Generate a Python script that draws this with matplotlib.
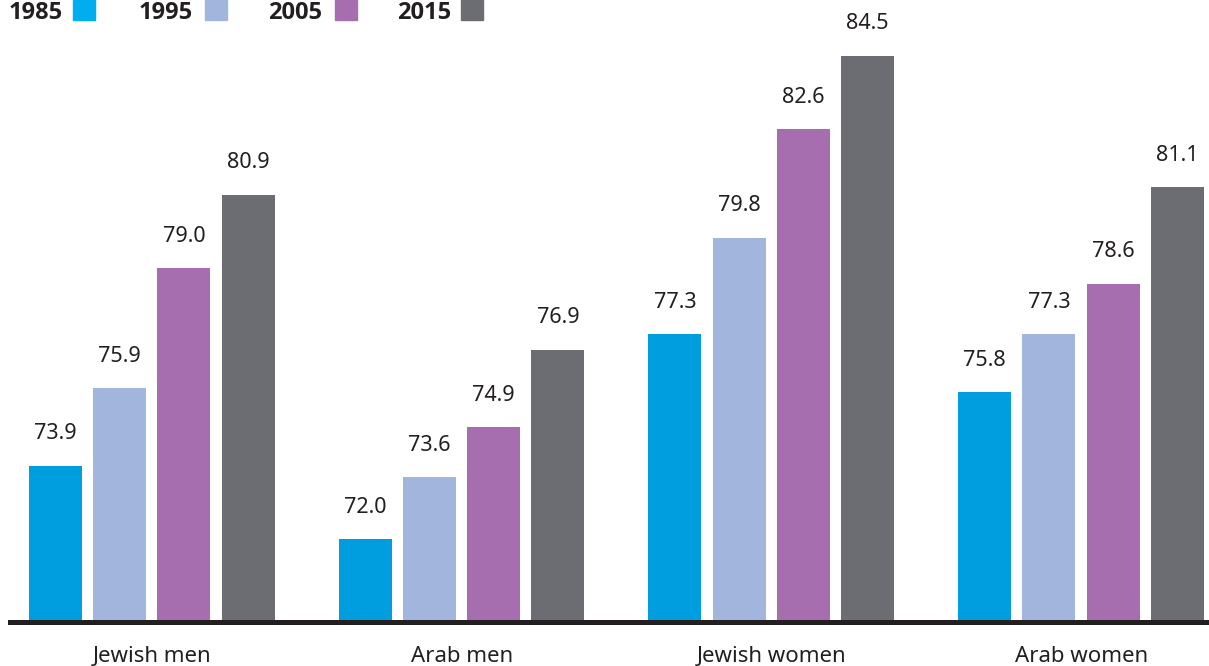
import numpy as np
import matplotlib
matplotlib.use("Agg")
import matplotlib.pyplot as plt
from matplotlib.patches import Rectangle

plt.rcParams['font.family'] = ['Noto Sans', 'DejaVu Sans']

categories = ["Jewish men", "Arab men", "Jewish women", "Arab women"]
years = ["1985", "1995", "2005", "2015"]
values_1985 = [73.9, 72.0, 77.3, 75.8]
values_1995 = [75.9, 73.6, 79.8, 77.3]
values_2005 = [79.0, 74.9, 82.6, 78.6]
values_2015 = [80.9, 76.9, 84.5, 81.1]
series = [values_1985, values_1995, values_2005, values_2015]

bar_colors = ["#009EDE", "#A2B6DD", "#A66EAE", "#6C6D72"]
key_colors = ["#00AEEF", "#A2B6DD", "#A66EAE", "#6C6D72"]
text_color = "#231F20"

W, H = 1209, 666
fig = plt.figure(figsize=(W / 100, H / 100), dpi=100)

# axes span from the baseline up to the top edge
ax_left, ax_bottom = 10 / W, (H - 622) / H
ax = fig.add_axes([ax_left, ax_bottom, 1 - ax_left, 1 - ax_bottom])

x = np.arange(len(categories))
step = 0.2074
width = 0.171
offsets = (np.arange(len(years)) - 1.5) * step

for i, (vals, col) in enumerate(zip(series, bar_colors)):
    ax.bar(x + offsets[i], vals, width=width, color=col, bottom=0)
    for xi, v in zip(x + offsets[i], vals):
        ax.annotate(f"{v:.1f}", xy=(xi, v), xytext=(0, 15.5),
                    textcoords="offset points", ha="center", va="bottom",
                    fontsize=15.5, color=text_color)

ax.set_xlim(-0.458, 3.413)
ax.set_ylim(69.86, 85.94)
ax.axhline(69.86, color=text_color, lw=3.6, clip_on=False, zorder=5)

for s in ax.spines.values():
    s.set_visible(False)
ax.set_yticks([])
ax.set_xticks(x)
ax.set_xticklabels(categories, fontsize=16, color=text_color)
ax.tick_params(axis="x", length=0, pad=17)
ax.patch.set_alpha(0)

# year key along the top edge
text_x = [9, 139, 268, 397]
swatch_x = [73, 205, 335, 461]
for yr, tx, sx, col in zip(years, text_x, swatch_x, key_colors):
    fig.text(tx / W, (H - 19) / H, yr, fontsize=17, fontweight="bold",
             family=["Open Sans", "DejaVu Sans"],
             color=text_color, ha="left", va="baseline")
    fig.patches.append(Rectangle((sx / W, (H - 20) / H), 22 / W, 20 / H,
                                 transform=fig.transFigure, color=col,
                                 figure=fig))

fig.savefig("out.png", dpi=100)
